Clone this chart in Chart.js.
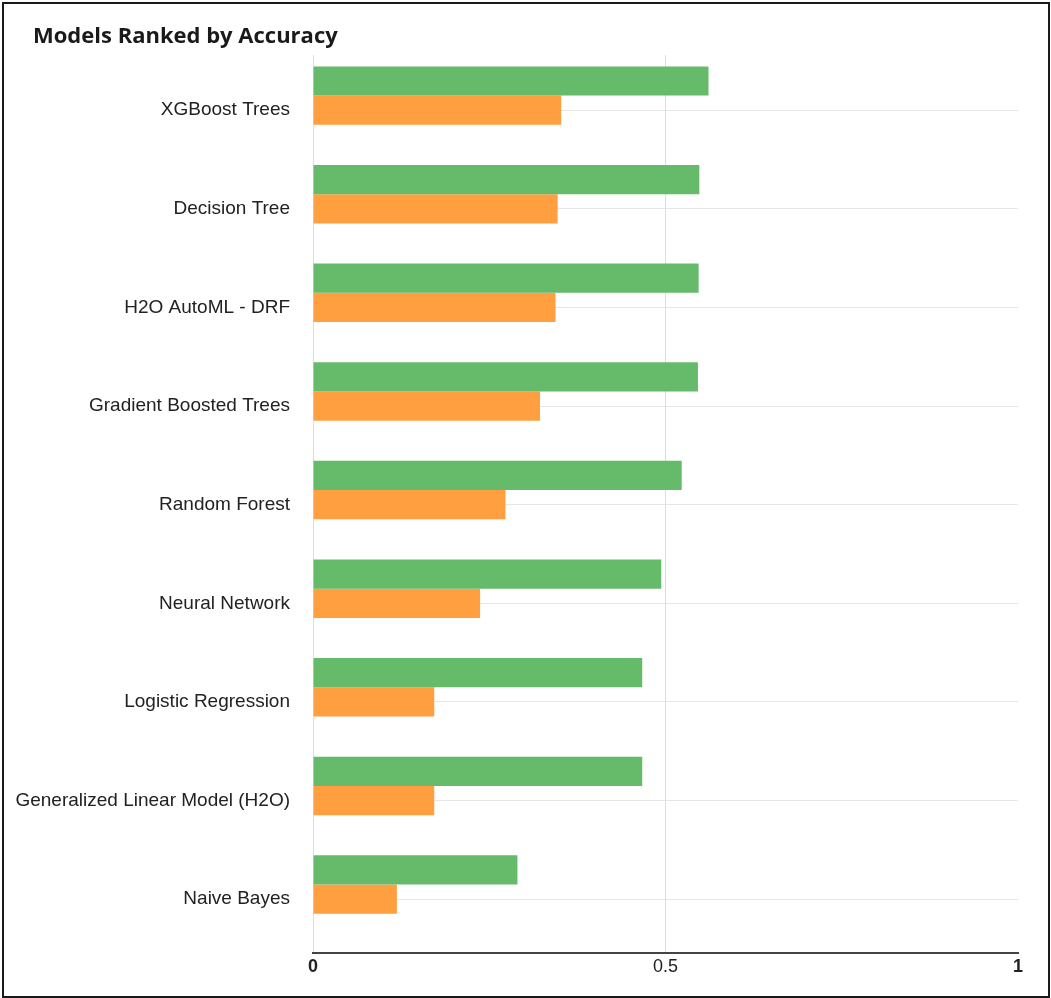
<!DOCTYPE html>
<html>
<head>
  <meta charset="UTF-8">
  <title>Models Ranked by Accuracy</title>
  <script src="https://cdn.jsdelivr.net/npm/chart.js"></script>
  <style>
    body { margin: 0; background: #fff; }
    .frame {
      position: absolute; left: 2px; top: 2px;
      width: 1048px; height: 996px;
      box-sizing: border-box; border: 2px solid #1a1a1a;
    }
    .frame canvas { display: block; }
    .frame h1 {
      position: absolute; left: 29px; top: 18px; margin: 0;
      font: bold 22px/24px "Open Sans", sans-serif; color: #1a1a1a;
    }
  </style>
</head>
<body>
  <div class="frame">
    <h1>Models Ranked by Accuracy</h1>
    <canvas id="rankChart" width="1044" height="992"></canvas>
  </div>

  <script>
    // Models, best first
    const models = [
      'XGBoost Trees',
      'Decision Tree',
      'H2O AutoML - DRF',
      'Gradient Boosted Trees',
      'Random Forest',
      'Neural Network',
      'Logistic Regression',
      'Generalized Linear Model (H2O)',
      'Naive Bayes'
    ];
    const accuracy    = [0.561, 0.548, 0.547, 0.546, 0.523, 0.494, 0.467, 0.467, 0.290];
    const secondScore = [0.352, 0.347, 0.344, 0.322, 0.273, 0.237, 0.172, 0.172, 0.119];
    const xTicks = [0, 0.5, 1];

    const labelFont = 'Liberation Sans, Arial, sans-serif';

    // y is a linear index axis so the row band can run a little past the last row
    const rows = (values) => values.map((v, i) => ({ x: v, y: i }));

    new Chart(document.getElementById('rankChart'), {
      type: 'bar',
      data: {
        datasets: [
          { label: 'Accuracy', data: rows(accuracy), backgroundColor: 'rgb(102, 187, 106)' },
          { label: 'Score', data: rows(secondScore), backgroundColor: 'rgb(255, 159, 64)' },
          // empty third slot: keeps the pair sitting above each row line
          { label: '', data: rows(models.map(() => null)), backgroundColor: 'transparent' }
        ]
      },
      options: {
        indexAxis: 'y',
        responsive: false,
        animation: false,
        categoryPercentage: 0.889,
        barPercentage: 1.0,
        layout: { padding: { left: 5, right: 30, top: 51, bottom: 15 } },
        plugins: {
          legend: { display: false },
          tooltip: { enabled: false }
        },
        scales: {
          x: {
            type: 'linear',
            min: 0,
            max: 1,
            afterBuildTicks: (scale) => { scale.ticks = xTicks.map(v => ({ value: v })); },
            grid: {
              drawTicks: false,
              color: (ctx) => ctx.tick && ctx.tick.value === 1 ? 'rgba(0,0,0,0)' : '#dedede'
            },
            border: { display: true, color: '#444', width: 2 },
            ticks: {
              padding: 3,
              color: '#222',
              callback: (v) => String(v),
              font: (ctx) => ({
                family: labelFont,
                size: 18,
                weight: ctx.tick && ctx.tick.value === 0.5 ? 'normal' : 'bold'
              })
            }
          },
          y: {
            type: 'linear',
            reverse: true,
            offset: false,
            min: -0.56,
            max: 8.55,
            afterBuildTicks: (scale) => { scale.ticks = models.map((m, i) => ({ value: i })); },
            afterFit: (scale) => { scale.width = 304; },
            grid: { drawTicks: false, offset: false, color: '#e6e6e6' },
            border: { display: false },
            ticks: {
              padding: 23,
              color: '#222',
              font: { family: labelFont, size: 19 },
              callback: (v) => models[v] ?? ''
            }
          }
        }
      }
    });
  </script>
</body>
</html>
